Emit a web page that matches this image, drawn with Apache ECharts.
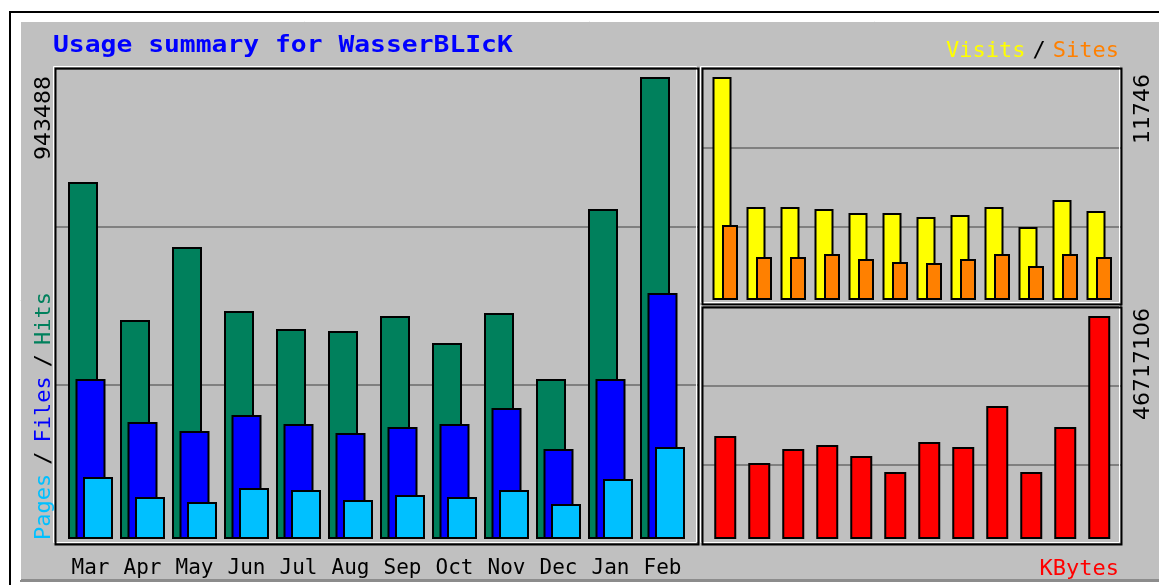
<!DOCTYPE html>
<html>
<head>
<meta charset="utf-8">
<title>Usage summary for WasserBLIcK</title>
<script src="https://cdn.jsdelivr.net/npm/echarts@6/dist/echarts.min.js"></script>
<style>
  html, body { margin: 0; padding: 0; background: #fff; }
  #chart { width: 1159px; height: 585px; }
</style>
</head>
<body>
<div id="chart"></div>
<script>
// values
const months = ["Mar", "Apr", "May", "Jun", "Jul", "Aug", "Sep", "Oct", "Nov", "Dec", "Jan", "Feb"];
const hits = [729060, 447240, 596320, 465620, 428860, 424780, 455410, 400270, 461540, 326750, 673930, 943488];
const files = [326750, 238940, 220560, 253230, 234850, 216470, 228720, 234850, 267530, 183800, 326750, 502380];
const pages = [126620, 85770, 75560, 104150, 100070, 79650, 89860, 85770, 100070, 71480, 122530, 187880];
const visits = [11746, 4898, 4898, 4793, 4582, 4582, 4372, 4477, 4898, 3845, 5267, 4688];
const sites = [3950, 2265, 2265, 2423, 2159, 2001, 1949, 2159, 2423, 1791, 2423, 2265];
const kbytes = [21580000, 15920000, 18850000, 19690000, 17390000, 14040000, 20320000, 19270000, 27860000, 14040000, 23460000, 46717106];

const hitsMax = "943488";
const visitsMax = "11746";
const kbytesMax = "46717106";

const BG = "#C0C0C0";
const MONO = '"DejaVu Sans Mono", monospace';

const chart = echarts.init(document.getElementById("chart"));

// grids: even index = frame with grid lines, odd index = bars
const grids = [
  { left: 56, top: 69, width: 642, height: 474 },
  { left: 64.5, top: 77, width: 624, height: 462 },
  { left: 703, top: 69, width: 419, height: 237 },
  { left: 708.25, top: 77, width: 408, height: 223 },
  { left: 703, top: 307, width: 419, height: 237 },
  { left: 708.25, top: 316, width: 408, height: 223 },
];

const xAxes = grids.map((g, i) => {
  if (i % 2 === 0) {
    return { gridIndex: i, type: "value", min: 0, max: 1, show: false };
  }
  return {
    gridIndex: i,
    type: "category",
    data: months,
    z: 5,
    axisLine: { show: false },
    axisTick: { show: false },
    splitLine: { show: false },
    axisLabel: {
      show: i === 1,
      margin: 19,
      color: "#000",
      fontFamily: MONO,
      fontSize: 21,
    },
  };
});

const yAxes = grids.map((g, i) => {
  if (i % 2 === 0) {
    return {
      gridIndex: i,
      type: "value",
      min: 0,
      max: 3,
      interval: 1,
      z: 1,
      axisLine: { show: false },
      axisTick: { show: false },
      axisLabel: { show: false },
      splitLine: { show: true, lineStyle: { color: "#808080", width: 2 } },
    };
  }
  return {
    gridIndex: i,
    type: "value",
    min: 0,
    max: "dataMax",
    show: false,
    splitLine: { show: false },
  };
});

function bar(name, data, axis, width, gap, color) {
  return {
    name,
    type: "bar",
    data,
    xAxisIndex: axis,
    yAxisIndex: axis,
    barWidth: width,
    barGap: gap,
    z: 6,
    itemStyle: { color, borderColor: "#000", borderWidth: 2 },
  };
}

function frame(x, y, w, h) {
  return [
    { type: "rect", z: 20, shape: { x: x - 2, y: y - 2, width: w, height: h },
      style: { fill: null, stroke: "#fff", lineWidth: 1 } },
    { type: "rect", z: 21, shape: { x, y, width: w, height: h },
      style: { fill: null, stroke: "#000", lineWidth: 2 } },
  ];
}

function vtext(text, x, y, align) {
  return {
    type: "text", x, y, rotation: Math.PI / 2, z: 30,
    style: {
      text,
      font: '22px "DejaVu Sans", sans-serif',
      fill: "#000",
      textAlign: align,
      textVerticalAlign: "middle",
    },
  };
}

const graphics = [
  // page background and outer border
  { type: "rect", z: -20, shape: { x: 0, y: 0, width: 1159, height: 585 }, style: { fill: "#fff" } },
  { type: "rect", z: -19, shape: { x: 10, y: 12, width: 1200, height: 600 },
    style: { fill: "#fff", stroke: "#000", lineWidth: 2 } },
  { type: "rect", z: -18, shape: { x: 20, y: 21, width: 1150, height: 560 }, style: { fill: BG } },
  { type: "rect", z: -17, shape: { x: 20, y: 579, width: 1150, height: 3 }, style: { fill: "#8c8c8c" } },
  { type: "line", z: -16, shape: { x1: 20, y1: 21.5, x2: 1159, y2: 21.5 }, style: { stroke: "#fff", lineWidth: 1 } },
  { type: "line", z: -16, shape: { x1: 20.5, y1: 21, x2: 20.5, y2: 580 }, style: { stroke: "#fff", lineWidth: 1 } },
  ...frame(55.5, 68.5, 643, 476),
  ...frame(702.5, 68.5, 419, 236),
  ...frame(702.5, 307.5, 419, 237),
  // title
  { type: "text", x: 53, y: 46, scaleX: 1.145, z: 30,
    style: { text: "Usage summary for WasserBLIcK", font: "bold 23px " + MONO,
      fill: "#0000FF", textVerticalAlign: "middle" } },
  // legend top right
  { type: "text", x: 1119, y: 51, z: 30,
    style: {
      text: "{v|Visits}{s|/}{t|Sites}",
      font: "22px " + MONO,
      textAlign: "right",
      textVerticalAlign: "middle",
      rich: {
        v: { fill: "#FFFF00", font: "22px " + MONO },
        s: { fill: "#000", font: "22px " + MONO, padding: [0, 7] },
        t: { fill: "#FF8000", font: "22px " + MONO },
      },
    } },
  // legend bottom right
  { type: "text", x: 1119, y: 569, z: 30,
    style: { text: "KBytes", font: "22px " + MONO, fill: "#FF0000",
      textAlign: "right", textVerticalAlign: "middle" } },
  // left rotated legend
  { type: "text", x: 44, y: 416, rotation: Math.PI / 2, z: 30,
    style: {
      text: "{p|Pages}{s|/}{f|Files}{s|/}{h|Hits}",
      font: "22px " + MONO,
      textAlign: "center",
      textVerticalAlign: "middle",
      rich: {
        p: { fill: "#00C0FF", font: "22px " + MONO },
        s: { fill: "#000", font: "22px " + MONO, padding: [0, 9] },
        f: { fill: "#0000FF", font: "22px " + MONO },
        h: { fill: "#00805C", font: "22px " + MONO },
      },
    } },
  // max labels
  vtext(hitsMax, 44, 76, "right"),
  vtext(visitsMax, 1143, 74, "right"),
  vtext(kbytesMax, 1143, 308, "right"),
];

const option = {
  animation: false,
  grid: grids,
  xAxis: xAxes,
  yAxis: yAxes,
  graphic: { elements: graphics },
  series: [
    bar("Hits", hits, 1, 30, "-75%", "#00805C"),
    bar("Files", files, 1, 30, "-75%", "#0000FF"),
    bar("Pages", pages, 1, 30, "-75%", "#00C0FF"),
    bar("Visits", visits, 3, 19, "-50%", "#FFFF00"),
    bar("Sites", sites, 3, 16, "-50%", "#FF8000"),
    bar("KBytes", kbytes, 5, 22, "-50%", "#FF0000"),
  ],
};

chart.setOption(option);
</script>
</body>
</html>
